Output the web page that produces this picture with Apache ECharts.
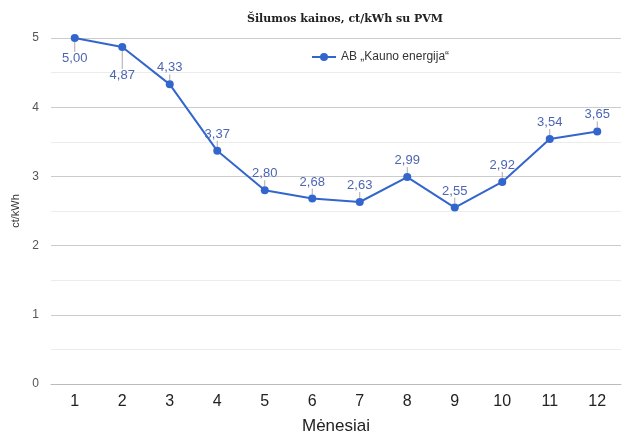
<!DOCTYPE html>
<html><head><meta charset="utf-8">
<script src="https://cdn.jsdelivr.net/npm/echarts@6/dist/echarts.min.js"></script>
<style>html,body{margin:0;padding:0;background:#fff}#c{width:623px;height:440px}</style>
</head><body><div id="c"></div>
<script>
var months = ['1','2','3','4','5','6','7','8','9','10','11','12'];
var prices = [5.00, 4.87, 4.33, 3.37, 2.80, 2.68, 2.63, 2.99, 2.55, 2.92, 3.54, 3.65];
var labelShift = [35, 43, -2, -2, -2, -2, -2, -2, -2, -2, -2, -2];
var seriesName = 'AB „Kauno energija“';
var titleText = 'Šilumos kainos, ct/kWh su PVM';

var chart = echarts.init(document.getElementById('c'));
chart.setOption({
  animation: false,
  title: { text: titleText, left: 340, textAlign: 'center', top: 9,
    textStyle: { fontFamily: 'DejaVu Serif', fontWeight: 'bold', fontSize: 11, color: '#222' } },
  legend: { top: 46, left: 306, itemWidth: 24, itemHeight: 10, itemGap: 6,
    textStyle: { fontFamily: 'Liberation Sans', fontSize: 12, color: '#333' },
    data: [seriesName] },
  grid: { left: 51, right: 2, top: 38, bottom: 51 },
  xAxis: { type: 'category', data: months, boundaryGap: true,
    name: 'Mėnesiai', nameLocation: 'middle', nameGap: 34,
    nameTextStyle: { fontFamily: 'Liberation Sans', fontSize: 17, color: '#222' },
    axisLine: { lineStyle: { color: '#bbb' } }, axisTick: { show: false },
    axisLabel: { fontFamily: 'Liberation Sans', fontSize: 16, color: '#222', margin: 10 },
    splitLine: { show: false } },
  yAxis: { type: 'value', min: 0, max: 5, interval: 1,
    name: 'ct/kWh', nameLocation: 'middle', nameGap: 30, nameRotate: 90,
    nameTextStyle: { fontFamily: 'Liberation Sans', fontSize: 11, color: '#333' },
    axisLine: { show: false }, axisTick: { show: false },
    axisLabel: { fontFamily: 'Liberation Sans', fontSize: 12, color: '#555', margin: 12 },
    splitLine: { lineStyle: { color: '#ccc' } },
    minorTick: { show: false, splitNumber: 2 },
    minorSplitLine: { show: true, lineStyle: { color: '#ececec' } } },
  series: [{
    name: seriesName, type: 'line', data: prices,
    symbol: 'circle', symbolSize: 8,
    lineStyle: { color: '#3366cc', width: 2 },
    itemStyle: { color: '#3366cc' },
    label: { show: true, position: 'top', distance: 4,
      fontFamily: 'Liberation Sans', fontSize: 13, color: '#4d66b3',
      formatter: function (p) { return p.value.toFixed(2).replace('.', ','); } },
    labelLine: { show: true, lineStyle: { color: '#aaa', width: 1 } },
    labelLayout: function (p) { return { dy: labelShift[p.dataIndex] }; }
  }]
});
</script></body></html>
